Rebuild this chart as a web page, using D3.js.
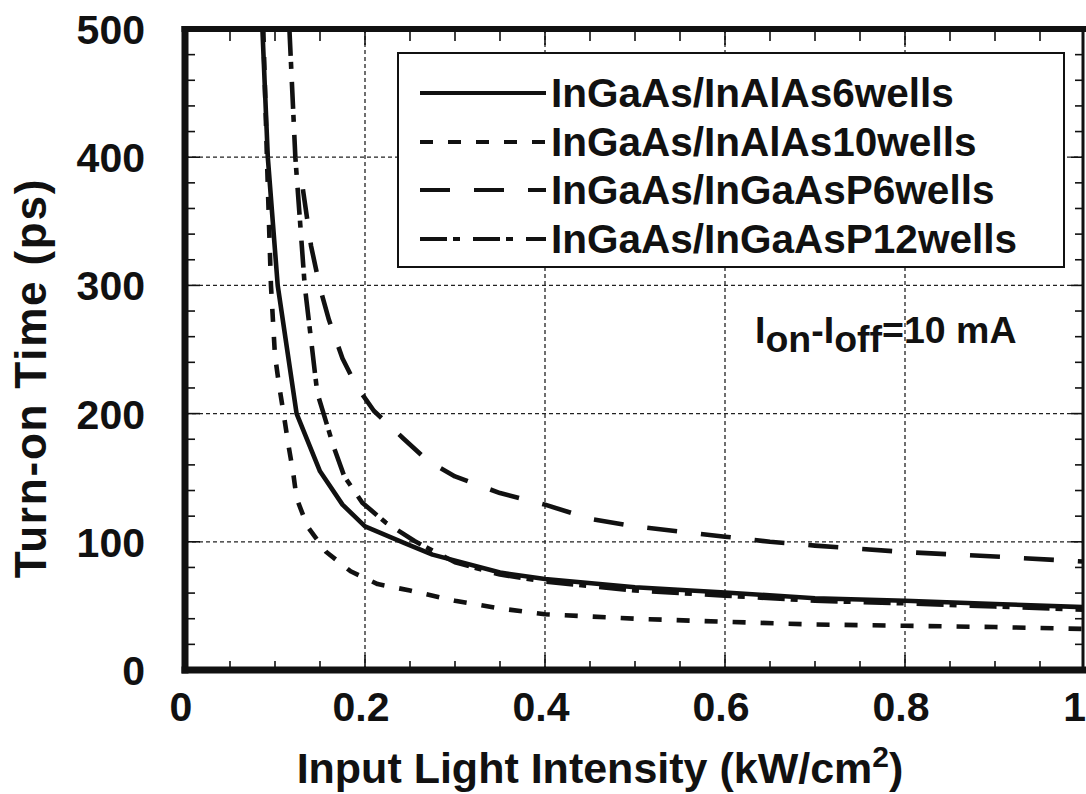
<!DOCTYPE html>
<html>
<head>
<meta charset="utf-8">
<script src="https://cdn.jsdelivr.net/npm/d3@7/dist/d3.min.js"></script>
<style>
  html, body { margin: 0; padding: 0; background: #fff; }
  svg { display: block; }
  text { font-family: "Liberation Sans", Arial, Helvetica, sans-serif; font-weight: bold; fill: #111; }
</style>
</head>
<body>
<svg id="chart" width="1086" height="794"></svg>
<script>
// ---------------- data ----------------
const xTickValues = [0, 0.2, 0.4, 0.6, 0.8, 1];
const xTickLabels = ["0", "0.2", "0.4", "0.6", "0.8", "1"];
const yTickValues = [0, 100, 200, 300, 400, 500];
const yTickLabels = ["0", "100", "200", "300", "400", "500"];

const seriesNames = [
  "InGaAs/InAlAs6wells",
  "InGaAs/InAlAs10wells",
  "InGaAs/InGaAsP6wells",
  "InGaAs/InGaAsP12wells"
];

// InGaAs/InAlAs 6 wells (solid)
const inAlAs6 = [
  [0.086, 500], [0.092, 400], [0.103, 300], [0.124, 200], [0.150, 155],
  [0.175, 129], [0.200, 112], [0.244, 99], [0.275, 90], [0.350, 76],
  [0.400, 71], [0.500, 64.5], [0.600, 60.5], [0.700, 56], [0.800, 54],
  [0.900, 51.5], [1.000, 49]
];
// InGaAs/InAlAs 10 wells (short dash)
const inAlAs10 = [
  [0.087, 500], [0.091, 400], [0.0955, 300], [0.100, 245], [0.105, 220],
  [0.110, 198], [0.115, 175], [0.120, 155], [0.124, 134], [0.136, 112],
  [0.157, 92], [0.184, 77], [0.214, 67], [0.250, 62], [0.300, 54],
  [0.350, 48], [0.400, 43.5], [0.500, 40], [0.600, 37.6], [0.700, 35.5],
  [0.800, 34.5], [0.900, 33.5], [1.000, 32]
];
// InGaAs/InGaAsP 6 wells (long dash)
const inGaAsP6 = [
  [0.131, 375], [0.140, 331], [0.150, 298], [0.160, 273], [0.175, 243],
  [0.190, 222], [0.210, 202], [0.242, 181], [0.270, 163], [0.300, 151],
  [0.350, 138], [0.400, 129], [0.450, 118], [0.500, 112], [0.550, 108],
  [0.600, 104], [0.650, 100], [0.700, 97], [0.800, 92], [0.900, 88.5],
  [1.000, 84.5]
];
// InGaAs/InGaAsP 12 wells (dash-dot)
const inGaAsP12 = [
  [0.116, 500], [0.1226, 400], [0.133, 300], [0.147, 216], [0.154, 200],
  [0.165, 174.5], [0.177, 151], [0.197, 130.5], [0.223, 115], [0.255, 100.6],
  [0.300, 84], [0.350, 74.5], [0.400, 69], [0.500, 62], [0.600, 58],
  [0.700, 54], [0.800, 52], [0.900, 49.5], [1.000, 47]
];

const seriesData = [inAlAs6, inAlAs10, inGaAsP6, inGaAsP12];
const seriesDash = ["none", "13,15", "30,24", "27,6,7,13"];

// ---------------- layout ----------------
const svg = d3.select("#chart");
const X0 = 185, X1 = 1085, Y0 = 670, Y1 = 29, XR = 1083;
const x = d3.scaleLinear().domain([0, 1]).range([X0, X1]);
const y = d3.scaleLinear().domain([0, 500]).range([Y0, Y1]);

svg.append("rect").attr("width", 1086).attr("height", 794).attr("fill", "#fff");

svg.append("defs").append("clipPath").attr("id", "plotClip")
  .append("rect").attr("x", X0).attr("y", Y1).attr("width", XR - X0).attr("height", Y0 - Y1);

// grid lines
const grid = svg.append("g").attr("stroke", "#222").attr("stroke-width", 1.3).attr("stroke-dasharray", "4,3");
xTickValues.filter(v => v > 0 && v < 1).forEach(v => {
  grid.append("line").attr("x1", x(v)).attr("x2", x(v)).attr("y1", Y1).attr("y2", Y0);
});
yTickValues.filter(v => v > 0 && v < 500).forEach(v => {
  grid.append("line").attr("x1", X0).attr("x2", XR).attr("y1", y(v)).attr("y2", y(v));
});

// minor / major inward ticks on all four sides
const xMinor = d3.range(0, 1.0001, 0.05);
const yMinor = d3.range(0, 500.1, 20);
const tickG = svg.append("g").attr("stroke", "#111").attr("stroke-width", 1.6);
xMinor.forEach(v => {
  const major = Math.abs(v * 5 - Math.round(v * 5)) < 1e-6;
  if (v <= 0 || v >= 1) return;
  tickG.append("line").attr("x1", x(v)).attr("x2", x(v)).attr("y1", Y0).attr("y2", Y0 - (major ? 15 : 9));
  tickG.append("line").attr("x1", x(v)).attr("x2", x(v)).attr("y1", Y1).attr("y2", Y1 + (major ? 16 : 12));
});
yMinor.forEach(v => {
  const major = v % 100 === 0;
  if (v <= 0 || v >= 500) return;
  tickG.append("line").attr("x1", X0).attr("x2", X0 + (major ? 15 : 10)).attr("y1", y(v)).attr("y2", y(v));
  tickG.append("line").attr("x1", XR).attr("x2", XR - (major ? 12 : 8)).attr("y1", y(v)).attr("y2", y(v));
});

// curves
const line = d3.line().x(d => x(d[0])).y(d => y(d[1]));
const curves = svg.append("g").attr("clip-path", "url(#plotClip)");
seriesData.forEach((data, i) => {
  curves.append("path").datum(data)
    .attr("d", line)
    .attr("fill", "none")
    .attr("stroke", "#111")
    .attr("stroke-width", 4.6)
    .attr("stroke-dasharray", seriesDash[i])
    .attr("stroke-linejoin", "round");
});

// frame
const frame = svg.append("g").attr("stroke", "#111").attr("fill", "none");
frame.append("line").attr("x1", X0).attr("x2", X0).attr("y1", Y1 - 3).attr("y2", Y0 + 3.5).attr("stroke-width", 7);
frame.append("line").attr("x1", X0 - 3.5).attr("x2", 1086).attr("y1", Y0).attr("y2", Y0).attr("stroke-width", 7);
frame.append("line").attr("x1", X0 - 3.5).attr("x2", 1086).attr("y1", Y1).attr("y2", Y1).attr("stroke-width", 6);
frame.append("line").attr("x1", XR).attr("x2", XR).attr("y1", Y1).attr("y2", Y0).attr("stroke-width", 3);

// tick labels
const xl = svg.append("g");
xTickValues.forEach((v, i) => {
  const last = i === xTickValues.length - 1;
  xl.append("text").attr("x", last ? 1086 : x(v) - 4).attr("y", 721)
    .attr("text-anchor", last ? "end" : "middle").attr("font-size", 41).text(xTickLabels[i]);
});
const yl = svg.append("g");
yTickValues.forEach((v, i) => {
  yl.append("text").attr("x", 145).attr("y", y(v) + 15)
    .attr("text-anchor", "end").attr("font-size", 41).text(yTickLabels[i]);
});

// axis titles
const xt = svg.append("text").attr("x", 600).attr("y", 783).attr("text-anchor", "middle").attr("font-size", 43);
xt.append("tspan").text("Input Light Intensity (kW/cm");
xt.append("tspan").attr("font-size", 30).attr("dy", -16).text("2");
xt.append("tspan").attr("dy", 16).text(")");

svg.append("text")
  .attr("transform", "translate(46,378) rotate(-90)")
  .attr("text-anchor", "middle").attr("font-size", 44)
  .attr("letter-spacing", 1.8)
  .text("Turn-on Time (ps)");

// legend
const lg = svg.append("g");
lg.append("rect").attr("x", 398).attr("y", 53).attr("width", 666).attr("height", 214)
  .attr("fill", "#fff").attr("stroke", "#111").attr("stroke-width", 2);
const legendY = [93, 142, 190, 239];
seriesNames.forEach((name, i) => {
  lg.append("line").attr("x1", 420).attr("x2", 546).attr("y1", legendY[i]).attr("y2", legendY[i])
    .attr("stroke", "#111").attr("stroke-width", 4).attr("stroke-dasharray", seriesDash[i]);
  lg.append("text").attr("x", 551).attr("y", legendY[i] + 14).attr("font-size", 40.5).text(name);
});

// annotation
const ann = svg.append("text").attr("x", 755).attr("y", 343).attr("font-size", 37.5);
ann.append("tspan").text("I");
ann.append("tspan").attr("dy", 9).text("on");
ann.append("tspan").attr("dy", -9).text("-I");
ann.append("tspan").attr("dy", 9).text("off");
ann.append("tspan").attr("dy", -9).text("=10 mA");
</script>
</body>
</html>
